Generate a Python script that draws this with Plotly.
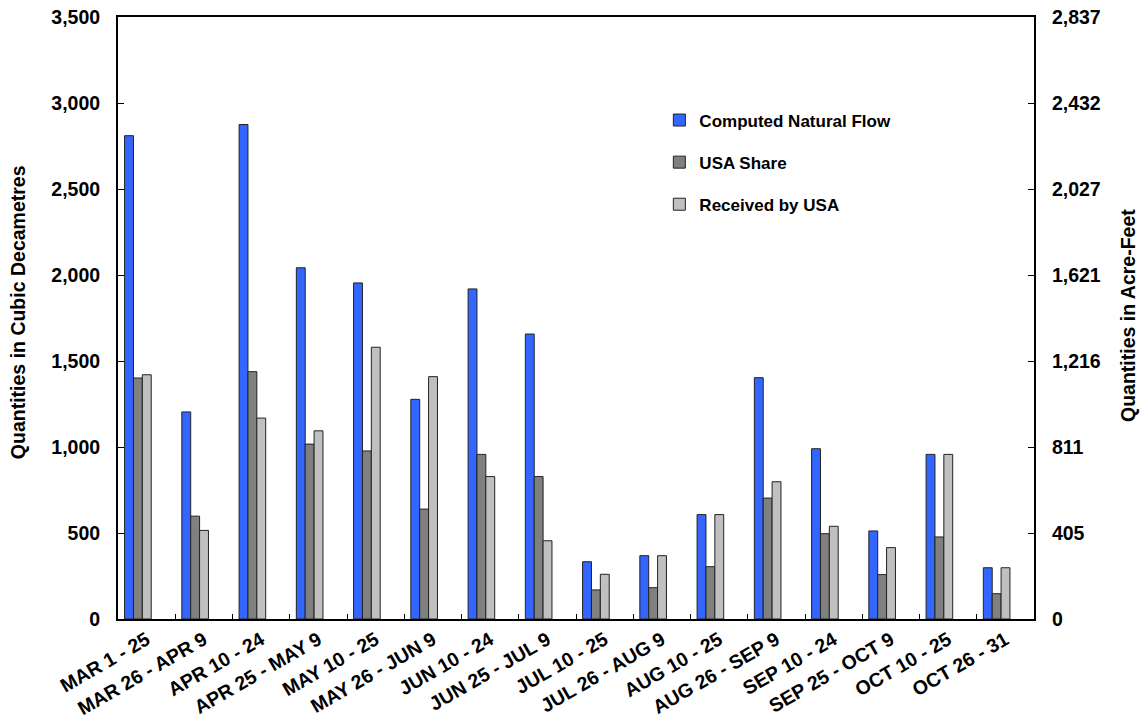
import plotly.graph_objects as go

categories = ["MAR 1 - 25", "MAR 26 - APR 9", "APR 10 - 24", "APR 25 - MAY 9",
              "MAY 10 - 25", "MAY 26 - JUN 9", "JUN 10 - 24", "JUN 25 - JUL 9",
              "JUL 10 - 25", "JUL 26 - AUG 9", "AUG 10 - 25", "AUG 26 - SEP 9",
              "SEP 10 - 24", "SEP 25 - OCT 9", "OCT 10 - 25", "OCT 26 - 31"]
natural_flow = [2810, 1204, 2875, 2042, 1954, 1277, 1919, 1657, 333, 368, 607, 1403, 990, 512, 957, 298]
usa_share = [1401, 598, 1438, 1017, 977, 639, 957, 828, 169, 182, 304, 703, 496, 258, 477, 147]
received_usa = [1420, 515, 1168, 1094, 1580, 1409, 828, 455, 260, 368, 607, 798, 539, 415, 957, 298]

left_tickvals = [0, 500, 1000, 1500, 2000, 2500, 3000, 3500]
right_ticktext = ["0", "405", "811", "1,216", "1,621", "2,027", "2,432", "2,837"]
AF_PER_DAM3 = 0.810713

FONT = "Liberation Sans"
series = [
    ("Computed Natural Flow", natural_flow, "#3366FF", -0.385),
    ("USA Share", usa_share, "#808080", -0.23),
    ("Received by USA", received_usa, "#C0C0C0", -0.075),
]

fig = go.Figure()
for name, vals, color, off in series:
    fig.add_trace(go.Bar(
        x=categories, y=vals, name=name, legendgroup=name,
        marker=dict(color=color, line=dict(color="#222222", width=1)),
        offset=off, width=0.155,
    ))

# anchor trace for the secondary (acre-feet) axis
fig.add_trace(go.Scatter(x=[categories[0]], y=[None], yaxis="y2",
                         showlegend=False, hoverinfo="skip"))

fig.update_layout(
    width=1145, height=724,
    margin=dict(l=118, r=111, t=17, b=105, autoexpand=False),
    plot_bgcolor="white", paper_bgcolor="white",
    barmode="overlay",
    font=dict(family=FONT, size=17, color="black"),
    showlegend=True,
    legend=dict(x=0.591, y=0.858, xanchor="left", yanchor="top",
                bgcolor="rgba(0,0,0,0)", tracegroupgap=17, itemwidth=30,
                font=dict(family=FONT, size=17, color="black", weight="bold")),
    xaxis=dict(
        type="category", range=[-0.5, 15.5], automargin=False,
        showline=True, linecolor="black", linewidth=2, mirror=True,
        ticks="inside", ticklen=5, tickcolor="black", tickson="boundaries",
        tickangle=-30, ticklabeloverflow="allow",
        tickfont=dict(family=FONT, size=19.5, color="black", weight="bold"),
        showgrid=False,
    ),
    yaxis=dict(
        range=[0, 3500], tickvals=left_tickvals, tickformat=",", automargin=False,
        showline=True, linecolor="black", linewidth=2,
        ticks="inside", ticklen=6, tickcolor="black",
        ticklabelstandoff=12, ticklabeloverflow="allow",
        tickfont=dict(family=FONT, size=19.5, color="black", weight="bold"),
        showgrid=False, zeroline=False,
    ),
    yaxis2=dict(
        overlaying="y", side="right", automargin=False,
        range=[0, 3500 * AF_PER_DAM3],
        tickvals=[v * AF_PER_DAM3 for v in left_tickvals], ticktext=right_ticktext,
        showline=True, linecolor="black", linewidth=2,
        ticks="inside", ticklen=6, tickcolor="black",
        ticklabelstandoff=12, ticklabeloverflow="allow",
        tickfont=dict(family=FONT, size=19.5, color="black", weight="bold"),
        showgrid=False, zeroline=False,
    ),
    annotations=[
        dict(text="Quantities in Cubic Decametres", xref="paper", yref="paper",
             x=-0.109, y=0.51, xanchor="center", yanchor="middle", textangle=-90,
             showarrow=False, font=dict(family=FONT, size=19.5, color="black", weight="bold")),
        dict(text="Quantities in Acre-Feet", xref="paper", yref="paper",
             x=1.1026, y=0.505, xanchor="center", yanchor="middle", textangle=-90,
             showarrow=False, font=dict(family=FONT, size=19.5, color="black", weight="bold")),
    ],
)

fig.write_html("out.html", config={"displayModeBar": False},
               post_script="document.body.style.margin='0';document.body.style.padding='0';"
                           "document.body.style.overflow='hidden';")
